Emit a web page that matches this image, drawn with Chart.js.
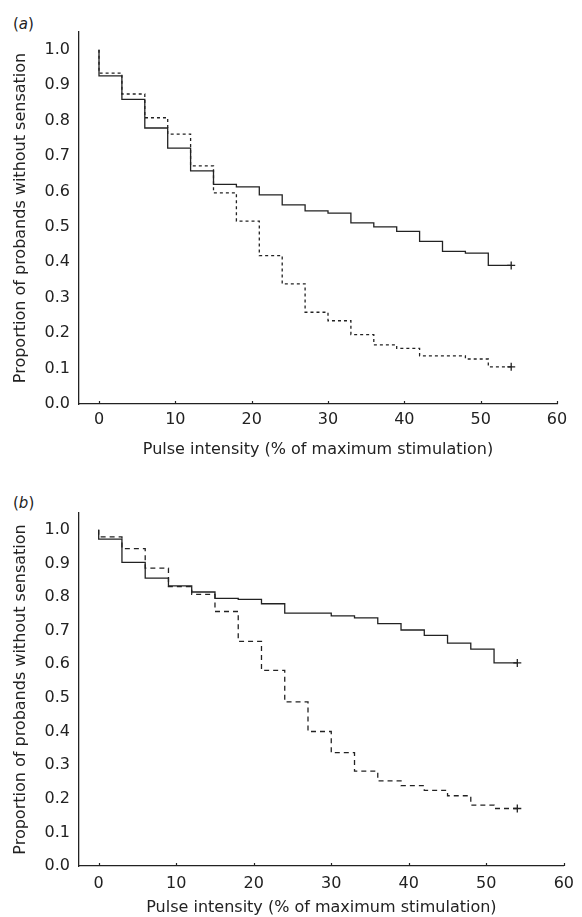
<!DOCTYPE html>
<html>
<head>
<meta charset="utf-8">
<script src="https://cdn.jsdelivr.net/npm/chart.js@4.4.1/dist/chart.umd.min.js"></script>
<style>
  body { margin: 0; background: #fff; }
  #page { position: relative; width: 582px; height: 917px; overflow: hidden; }
  .panel { position: absolute; left: 0; }
  .tag { position: absolute; left: 13px; font: 15px "DejaVu Sans", sans-serif; color: #222; }
</style>
</head>
<body>
<div id="page">
  <div class="tag" style="top: 15px;">(<i>a</i>)</div>
  <div class="panel" style="top: 0;"><canvas id="chartA" width="582" height="460"></canvas></div>
  <div class="tag" style="top: 494px;">(<i>b</i>)</div>
  <div class="panel" style="top: 460px;"><canvas id="chartB" width="582" height="457"></canvas></div>
</div>
<script>
// Step times (% of maximum stimulation), first point repeated for the drop at 0
const stepTimes = [0, 0, 3, 6, 9, 12, 15, 18, 21, 24, 27, 30, 33, 36, 39, 42, 45, 48, 51, 54];

// Panel (a)
const solidA  = [1.0, 0.926, 0.860, 0.779, 0.722, 0.658, 0.620, 0.613, 0.590, 0.562, 0.545, 0.539, 0.511, 0.500, 0.487, 0.459, 0.431, 0.426, 0.391, 0.391];
const dottedA = [1.0, 0.934, 0.875, 0.808, 0.762, 0.672, 0.596, 0.516, 0.419, 0.339, 0.259, 0.235, 0.196, 0.167, 0.157, 0.136, 0.136, 0.127, 0.105, 0.105];

// Panel (b)
const solidB  = [1.0, 0.972, 0.903, 0.856, 0.833, 0.815, 0.796, 0.793, 0.780, 0.752, 0.752, 0.744, 0.738, 0.721, 0.702, 0.686, 0.663, 0.645, 0.604, 0.604];
const dashedB = [1.0, 0.979, 0.944, 0.886, 0.831, 0.808, 0.757, 0.668, 0.582, 0.488, 0.400, 0.337, 0.282, 0.253, 0.239, 0.225, 0.209, 0.181, 0.171, 0.171];

// Tick labels
const xTicks = [0, 10, 20, 30, 40, 50, 60];
const yTicks = [0, 0.1, 0.2, 0.3, 0.4, 0.5, 0.6, 0.7, 0.8, 0.9, 1.0];

const xTitle = 'Pulse intensity (% of maximum stimulation)';
const yTitle = 'Proportion of probands without sensation';

const ink = '#222';
Chart.defaults.font.family = '"DejaVu Sans", sans-serif';
Chart.defaults.font.size = 16;
Chart.defaults.color = ink;

// censor mark ("+") only on the last point
function censorRadius(n) {
    return stepTimes.map((t, i) => i === n - 1 ? 4 : 0);
}

function makeSeries(values, dash) {
    return {
        data: stepTimes.map((t, i) => ({ x: t, y: values[i] })),
        stepped: 'before',
        borderColor: ink,
        borderWidth: 1.3,
        borderDash: dash,
        pointStyle: 'cross',
        pointRadius: censorRadius(values.length),
        pointBorderWidth: 1.3,
        pointBorderColor: ink,
        fill: false
    };
}

// small inward ticks on the x axis
const innerTicks = {
    id: 'innerTicks',
    afterDraw(chart) {
        const xs = chart.scales.x;
        const ctx = chart.ctx;
        ctx.save();
        ctx.strokeStyle = ink;
        ctx.lineWidth = 1.2;
        xs.ticks.forEach(t => {
            const px = Math.round(xs.getPixelForValue(t.value)) + 0.5;
            ctx.beginPath();
            ctx.moveTo(px, xs.top);
            ctx.lineTo(px, xs.top - 3);
            ctx.stroke();
        });
        ctx.restore();
    }
};

function makeChart(id, series, opts) {
    return new Chart(document.getElementById(id), {
        type: 'line',
        data: { datasets: series },
        plugins: [innerTicks],
        options: {
            responsive: false,
            animation: false,
            layout: { padding: { top: opts.top, right: opts.right, left: 0, bottom: 0 } },
            plugins: { legend: { display: false }, tooltip: { enabled: false } },
            scales: {
                x: {
                    type: 'linear',
                    min: opts.xMin,
                    max: 60,
                    grid: { display: false, drawTicks: false },
                    border: { display: true, color: ink, width: 1.3 },
                    ticks: { padding: opts.xTickPad, maxRotation: 0, autoSkip: false },
                    afterBuildTicks: s => { s.ticks = xTicks.map(v => ({ value: v })); },
                    afterFit: s => { s.height = opts.xHeight; },
                    title: { display: true, text: xTitle, padding: { top: 0, bottom: opts.xTitlePad } }
                },
                y: {
                    min: 0,
                    max: 1.05,
                    grid: { display: false, drawTicks: false },
                    border: { display: true, color: ink, width: 1.3 },
                    ticks: {
                        padding: 9,
                        autoSkip: false,
                        callback: v => v.toFixed(1)
                    },
                    afterBuildTicks: s => { s.ticks = yTicks.map(v => ({ value: v })); },
                    afterFit: s => { s.width = 79; },
                    title: { display: true, text: yTitle, padding: { top: 11, bottom: 0 } }
                }
            }
        }
    });
}

makeChart('chartA', [makeSeries(solidA, []), makeSeries(dottedA, [3, 3])], {
    top: 32, right: 25, xMin: -2.62, xHeight: 56, xTickPad: 6, xTitlePad: 0.5
});

makeChart('chartB', [makeSeries(solidB, []), makeSeries(dashedB, [5, 4])], {
    top: 53, right: 11, xMin: -2.54, xHeight: 51, xTickPad: 8, xTitlePad: 0
});
</script>
</body>
</html>
